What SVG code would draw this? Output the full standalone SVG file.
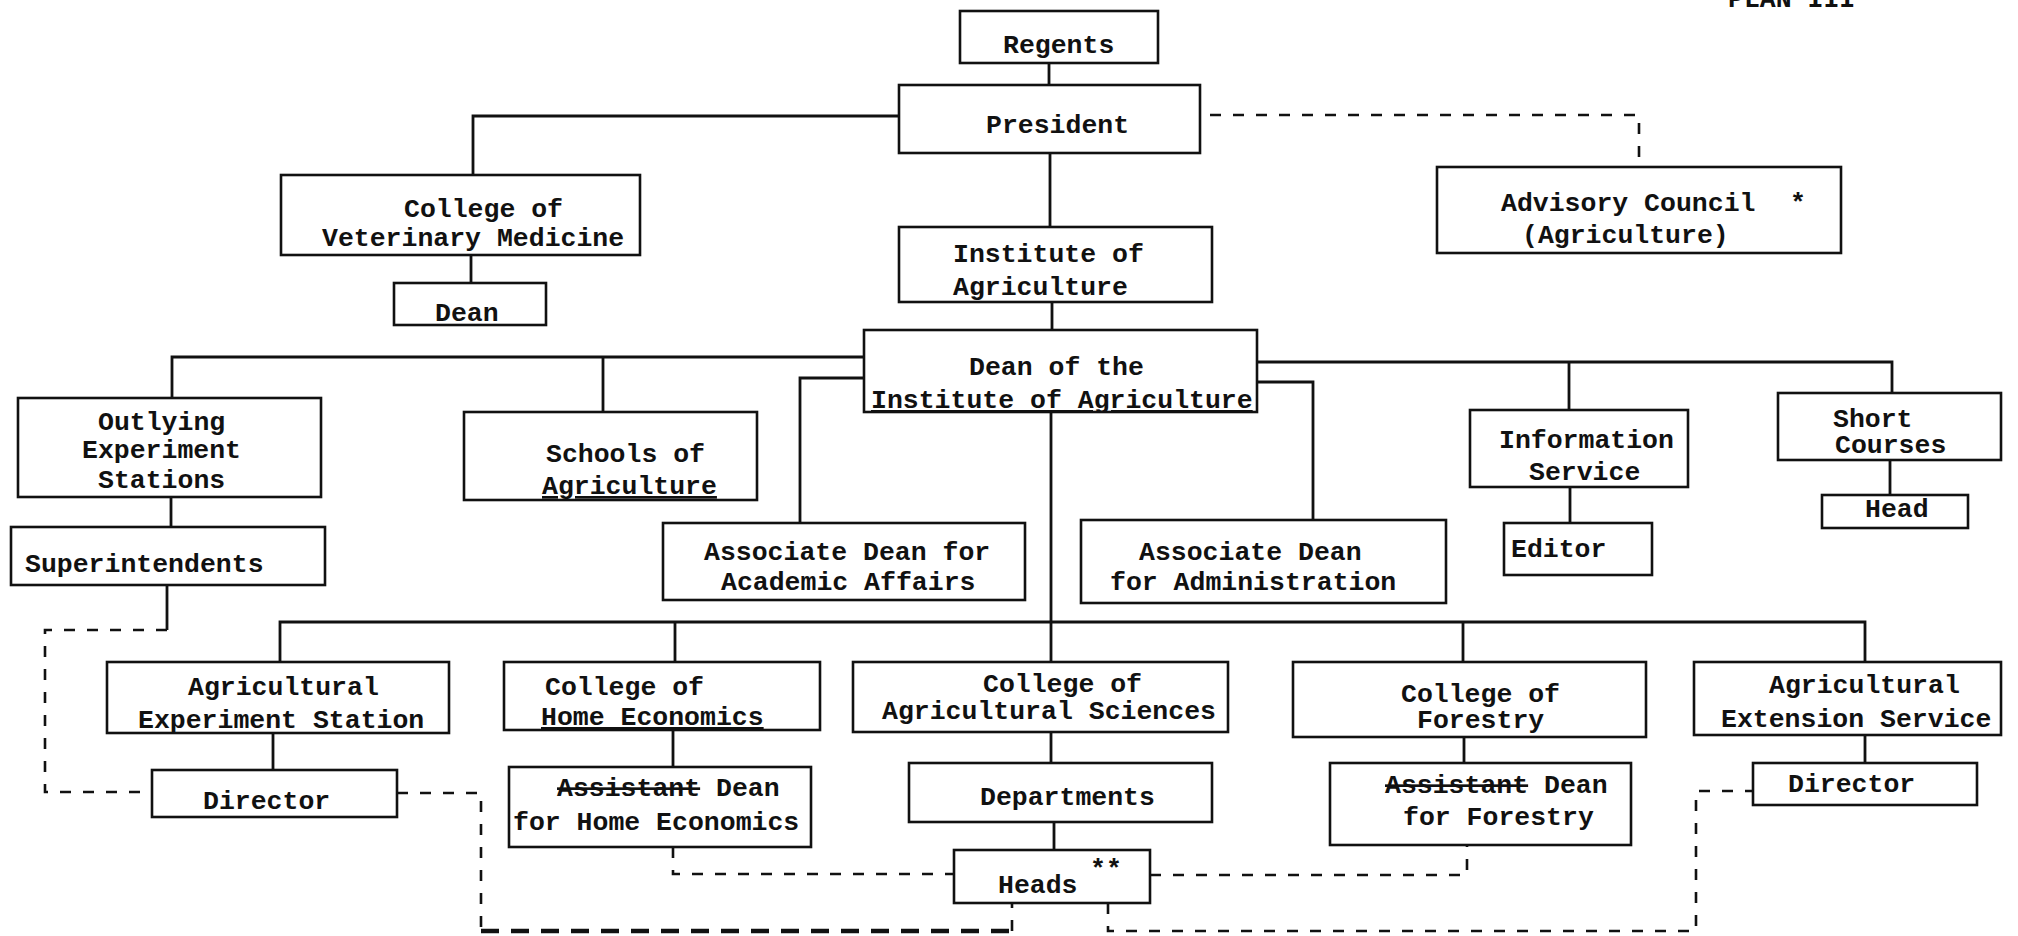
<svg xmlns="http://www.w3.org/2000/svg" width="2018" height="936" viewBox="0 0 2018 936">
<style>
.box{fill:none;stroke:#111;stroke-width:2.6}
.ln{fill:none;stroke:#111;stroke-width:2.8}
.dash{fill:none;stroke:#111;stroke-width:2.6;stroke-dasharray:11 12}
.bold{fill:none;stroke:#111;stroke-width:4.5;stroke-dasharray:18 12}
text{font-family:"Liberation Mono","Courier New",monospace;font-size:26.5px;font-weight:bold;fill:#111}
.u{text-decoration:underline}
.s{text-decoration:line-through}
</style>
<rect x="0" y="0" width="2018" height="936" fill="#fff"/>
<text id="plan" x="1728" y="7">PLAN III</text>
<g id="connectors">
<path class="ln" d="M1049 63V85"/>
<path class="ln" d="M898 116H473V175"/>
<path class="ln" d="M471 255V283"/>
<path class="ln" d="M1050 153V227"/>
<path class="ln" d="M1052 302V330"/>
<path class="ln" d="M172 398V357H864"/>
<path class="ln" d="M1257 362H1892V393"/>
<path class="ln" d="M603 357V412"/>
<path class="ln" d="M864 378H800V523"/>
<path class="ln" d="M1257 382H1313V520"/>
<path class="ln" d="M1569 362V410"/>
<path class="ln" d="M1570 487V523"/>
<path class="ln" d="M1890 460V495"/>
<path class="ln" d="M171 497V527"/>
<path class="ln" d="M167 585V630"/>
<path class="ln" d="M1051 412V662"/>
<path class="ln" d="M280 662V622H1865V662"/>
<path class="ln" d="M675 622V662"/>
<path class="ln" d="M1463 622V662"/>
<path class="ln" d="M273 733V770"/>
<path class="ln" d="M673 730V767"/>
<path class="ln" d="M1051 732V763"/>
<path class="ln" d="M1054 822V850"/>
<path class="ln" d="M1464 737V763"/>
<path class="ln" d="M1865 735V763"/>
<path class="dash" d="M1210 115H1639V167"/>
<path class="dash" d="M167 630H45V792H152"/>
<path class="dash" d="M397 793H481V929"/>
<path class="bold" d="M481 931H1012"/>
<path class="dash" d="M1012 931V903"/>
<path class="dash" d="M673 847V874H954"/>
<path class="dash" d="M1150 875H1467V845"/>
<path class="dash" d="M1108 903V931H1696V791H1753"/>
</g>
<g id="regents"><rect class="box" x="960" y="11" width="198" height="52"/><text x="1003" y="53">Regents</text></g>
<g id="president"><rect class="box" x="899" y="85" width="301" height="68"/><text x="986" y="133">President</text></g>
<g id="vet"><rect class="box" x="281" y="175" width="359" height="80"/><text x="404" y="217">College of</text><text x="322" y="246">Veterinary Medicine</text></g>
<g id="vet-dean"><rect class="box" x="394" y="283" width="152" height="42"/><text x="435" y="321">Dean</text></g>
<g id="advisory"><rect class="box" x="1437" y="167" width="404" height="86"/><text x="1501" y="211">Advisory Council</text><text x="1790" y="211">*</text><text x="1522" y="243">(Agriculture)</text></g>
<g id="institute"><rect class="box" x="899" y="227" width="313" height="75"/><text x="953" y="262">Institute of</text><text x="953" y="295">Agriculture</text></g>
<g id="dean"><rect class="box" x="864" y="330" width="393" height="82"/><text x="969" y="375">Dean of the</text><text class="u" x="871" y="408">Institute of Agriculture</text></g>
<g id="outlying"><rect class="box" x="18" y="398" width="303" height="99"/><text x="98" y="430">Outlying</text><text x="82" y="458">Experiment</text><text x="98" y="488">Stations</text></g>
<g id="superintendents"><rect class="box" x="11" y="527" width="314" height="58"/><text x="25" y="572">Superintendents</text></g>
<g id="schools"><rect class="box" x="464" y="412" width="293" height="88"/><text x="546" y="462">Schools of</text><text class="u" x="542" y="494">Agriculture</text></g>
<g id="assoc-academic"><rect class="box" x="663" y="523" width="362" height="77"/><text x="704" y="560">Associate Dean for</text><text x="721" y="590">Academic Affairs</text></g>
<g id="assoc-admin"><rect class="box" x="1081" y="520" width="365" height="83"/><text x="1139" y="560">Associate Dean</text><text x="1110" y="590">for Administration</text></g>
<g id="info"><rect class="box" x="1470" y="410" width="218" height="77"/><text x="1499" y="448">Information</text><text x="1529" y="480">Service</text></g>
<g id="editor"><rect class="box" x="1504" y="523" width="148" height="52"/><text x="1511" y="557">Editor</text></g>
<g id="short"><rect class="box" x="1778" y="393" width="223" height="67"/><text x="1833" y="427">Short</text><text x="1835" y="453">Courses</text></g>
<g id="short-head"><rect class="box" x="1822" y="495" width="146" height="33"/><text x="1865" y="517">Head</text></g>
<g id="aes"><rect class="box" x="107" y="662" width="342" height="71"/><text x="188" y="695">Agricultural</text><text x="138" y="728">Experiment Station</text></g>
<g id="aes-director"><rect class="box" x="152" y="770" width="245" height="47"/><text x="203" y="809">Director</text></g>
<g id="home-ec"><rect class="box" x="504" y="662" width="316" height="68"/><text x="545" y="695">College of</text><text class="u" x="541" y="725">Home Economics</text></g>
<g id="home-ec-dean"><rect class="box" x="509" y="767" width="302" height="80"/><text x="557" y="796"><tspan class="s">Assistant</tspan> Dean</text><text x="513" y="830">for Home Economics</text></g>
<g id="cas"><rect class="box" x="853" y="662" width="375" height="70"/><text x="983" y="692">College of</text><text x="882" y="719">Agricultural Sciences</text></g>
<g id="departments"><rect class="box" x="909" y="763" width="303" height="59"/><text x="980" y="805">Departments</text></g>
<g id="heads"><rect class="box" x="954" y="850" width="196" height="53"/><text x="998" y="893">Heads</text><text x="1090" y="877">**</text></g>
<g id="forestry"><rect class="box" x="1293" y="662" width="353" height="75"/><text x="1401" y="702">College of</text><text x="1417" y="728">Forestry</text></g>
<g id="forestry-dean"><rect class="box" x="1330" y="763" width="301" height="82"/><text x="1385" y="793"><tspan class="s">Assistant</tspan> Dean</text><text x="1403" y="825">for Forestry</text></g>
<g id="extension"><rect class="box" x="1694" y="662" width="307" height="73"/><text x="1769" y="693">Agricultural</text><text x="1721" y="727">Extension Service</text></g>
<g id="ext-director"><rect class="box" x="1753" y="763" width="224" height="42"/><text x="1788" y="792">Director</text></g>
</svg>
